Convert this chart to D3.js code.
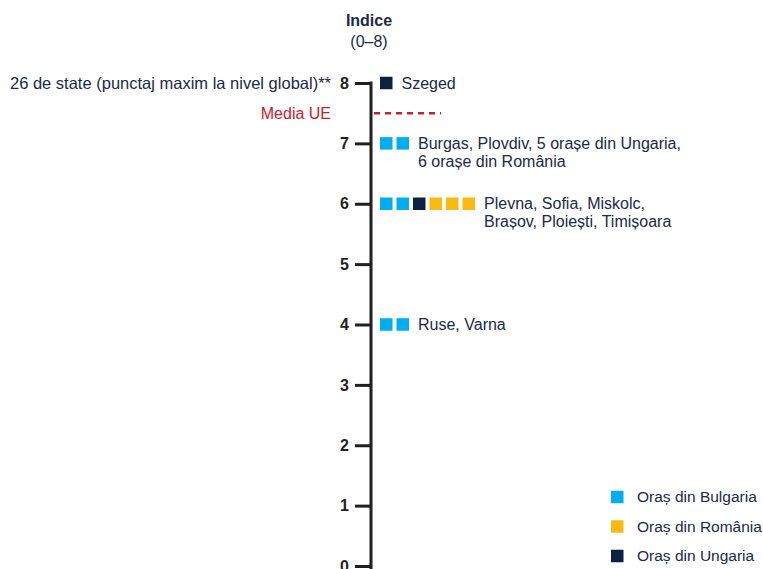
<!DOCTYPE html>
<html>
<head>
<meta charset="utf-8">
<script src="https://cdn.jsdelivr.net/npm/d3@7"></script>
<style>
  html, body { margin: 0; padding: 0; background: #fff; }
  svg { display: block; font-family: "Liberation Sans", Arial, sans-serif; }
</style>
</head>
<body>
<svg id="chart" width="763" height="569"></svg>
<script>
// Index scale ticks
const tickValues = [0, 1, 2, 3, 4, 5, 6, 7, 8];

// Cities grouped by score: score, countries of the squares, label lines
const scores = [8, 7, 6, 4];
const squareCountries = [
  ["HU"],
  ["BG", "BG"],
  ["BG", "BG", "HU", "RO", "RO", "RO"],
  ["BG", "BG"]
];
const cityLabels = [
  ["Szeged"],
  ["Burgas, Plovdiv, 5 orașe din Ungaria,", "6 orașe din România"],
  ["Plevna, Sofia, Miskolc,", "Brașov, Ploiești, Timișoara"],
  ["Ruse, Varna"]
];

// EU average reference
const euAverage = 7.5;
const euLabel = "Media UE";
const maxLabel = "26 de state (punctaj maxim la nivel global)**";

// Legend
const legendKeys = ["BG", "RO", "HU"];
const legendLabels = ["Oraș din Bulgaria", "Oraș din România", "Oraș din Ungaria"];

const colors = { BG: "#00aeef", RO: "#fdb913", HU: "#0d2240" };
const textColor = "#1b2a47";
const axisColor = "#231f20";

const svg = d3.select("#chart");

const y = d3.scaleLinear().domain([0, 8]).range([566, 83]);
const axisX = 371;

// Title
svg.append("text").attr("x", 369).attr("y", 26)
  .attr("text-anchor", "middle").attr("font-weight", "bold")
  .attr("font-size", 16).attr("fill", textColor).text("Indice");
svg.append("text").attr("x", 369).attr("y", 47)
  .attr("text-anchor", "middle")
  .attr("font-size", 16).attr("fill", textColor).text("(0–8)");

// Axis
const axis = d3.axisLeft(y).tickValues(tickValues).tickSize(16).tickSizeOuter(0)
  .tickPadding(6).tickFormat(d3.format("d"));
const g = svg.append("g").attr("transform", `translate(${axisX},0)`).call(axis);
g.select(".domain").remove();
g.selectAll(".tick line").attr("stroke", axisColor).attr("stroke-width", 3);
g.selectAll(".tick text").attr("font-size", 16).attr("font-weight", "bold")
  .attr("fill", axisColor).attr("font-family", null);
g.append("line").attr("x1", 0).attr("x2", 0)
  .attr("y1", y(8) - 1.5).attr("y2", 569)
  .attr("stroke", axisColor).attr("stroke-width", 3);

// Label beside maximum tick
svg.append("text").attr("x", 331).attr("y", y(8)).attr("dy", "0.35em")
  .attr("text-anchor", "end").attr("font-size", 16.5).attr("fill", textColor)
  .text(maxLabel);

// EU average
svg.append("line").attr("x1", axisX + 3).attr("x2", 441)
  .attr("y1", y(euAverage)).attr("y2", y(euAverage))
  .attr("stroke", "#c8202f").attr("stroke-width", 2.5)
  .attr("stroke-dasharray", "6,5");
svg.append("text").attr("x", 331).attr("y", y(euAverage)).attr("dy", "0.35em")
  .attr("text-anchor", "end").attr("font-size", 16).attr("fill", "#c8202f")
  .text(euLabel);

// Squares and city labels
const sq = 12.5, step = 16.5, x0 = 380;
scores.forEach((s, i) => {
  const cy = y(s);
  const grp = svg.append("g");
  grp.selectAll("rect").data(squareCountries[i]).join("rect")
    .attr("x", (d, j) => x0 + j * step)
    .attr("y", cy - sq / 2)
    .attr("width", sq).attr("height", sq)
    .attr("fill", d => colors[d]);
  const tx = x0 + (squareCountries[i].length - 1) * step + sq + 9;
  const t = grp.append("text").attr("x", tx).attr("y", cy)
    .attr("font-size", 16).attr("fill", textColor);
  cityLabels[i].forEach((line, k) => {
    t.append("tspan").attr("x", tx).attr("dy", k === 0 ? "0.35em" : 18).text(line);
  });
});

// Legend
const legendY = [497, 526.5, 556];
legendKeys.forEach((k, i) => {
  svg.append("rect").attr("x", 611).attr("y", legendY[i] - 6.25)
    .attr("width", 12.5).attr("height", 12.5).attr("fill", colors[k]);
  svg.append("text").attr("x", 637).attr("y", legendY[i]).attr("dy", "0.35em")
    .attr("font-size", 15.5).attr("fill", textColor).text(legendLabels[i]);
});
</script>
</body>
</html>
